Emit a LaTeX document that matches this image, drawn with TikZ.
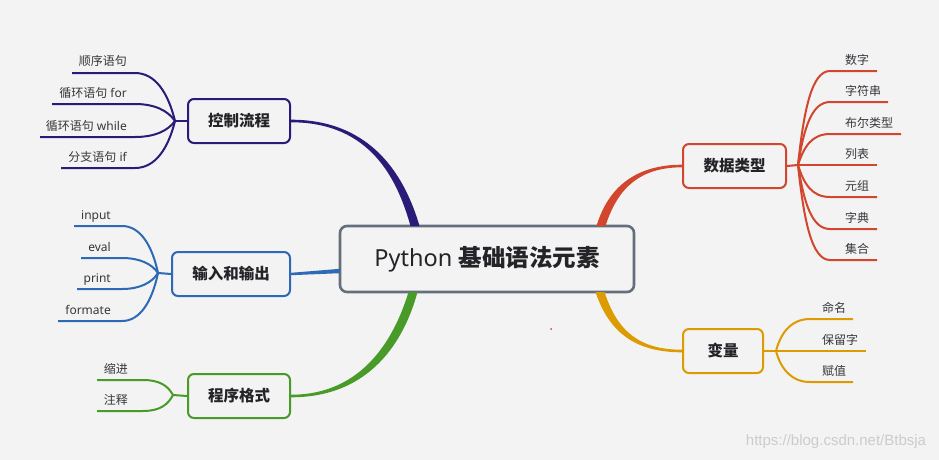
\documentclass[tikz,border=0pt]{standalone}
\usepackage{fontspec}
\setmainfont{Noto Sans}
\newfontfamily\zhfont{Noto Sans CJK SC}
\newfontfamily\wmfont{Liberation Sans}
\newcommand{\zh}[1]{{\zhfont #1}}
\usetikzlibrary{calc}
\definecolor{bgc}{RGB}{243,243,243}
\definecolor{cnavy}{RGB}{40,28,120}
\definecolor{cblue}{RGB}{45,105,180}
\definecolor{cgreen}{RGB}{72,155,40}
\definecolor{cred}{RGB}{210,70,45}
\definecolor{corange}{RGB}{220,155,0}
\definecolor{cgray}{RGB}{100,110,125}
\definecolor{txtc}{RGB}{35,35,40}
\definecolor{leafc}{RGB}{55,55,60}
\tikzset{
  topic/.style={draw, rounded corners=6pt, line width=2pt, fill=bgc, minimum height=44pt,
    inner sep=2pt, font=\zhfont\bfseries\fontsize{15.5}{18}\selectfont, text=txtc},
  leaf/.style={inner sep=0pt, font=\fontsize{12}{14}\selectfont, text=leafc},
  branch/.style={line width=2pt},
}
\begin{document}
\begin{tikzpicture}[x=1pt,y=-1pt]
\fill[bgc] (0,0) rectangle (939,460);
\useasboundingbox (0,0) rectangle (939,460);

% central and topic nodes
\node[draw=cgray, rounded corners=7pt, line width=2.6pt, fill=bgc, minimum width=294pt, minimum height=66pt,
  font=\fontsize{23.5}{28}\selectfont, text=txtc] (main) at (487,259) {Python \zh{\bfseries 基础语法元素}};
\node[topic, draw=cnavy, minimum width=102pt] (ctrl) at (239,121) {控制流程};
\node[topic, draw=cblue, minimum width=118pt] (io) at (231,274) {输入和输出};
\node[topic, draw=cgreen, minimum width=102pt] (fmt) at (239,396) {程序格式};
\node[topic, draw=cred, minimum width=103pt] (data) at (734.5,166) {数据类型};
\node[topic, draw=corange, minimum width=80pt] (var) at (723,351) {变量};

% attachment points on the central box
\coordinate (pN) at (415,226);
\coordinate (pB) at (340,271);
\coordinate (pG) at (413,292);
\coordinate (pR) at (601,226);
\coordinate (pO) at (600,292);

% tapered main connectors
\fill[cnavy] ($(ctrl.east)+(0,-1.3)$) .. controls +(82,0) and +(-14,-48) .. ($(pN)+(4.5,0)$)
  -- ($(pN)+(-4.5,0)$) .. controls +(-13,-46) and +(80,0) .. ($(ctrl.east)+(0,1.3)$) -- cycle;
\fill[cblue] ($(io.east)+(0,-1.2)$) -- ($(pB)+(0,-2.2)$) -- ($(pB)+(0,2.2)$) -- ($(io.east)+(0,1.2)$) -- cycle;
\fill[cgreen] ($(fmt.east)+(0,-1.3)$) .. controls +(72,0) and +(-14,46) .. ($(pG)+(-4.5,0)$)
  -- ($(pG)+(4.5,0)$) .. controls +(-13,48) and +(80,0) .. ($(fmt.east)+(0,1.3)$) -- cycle;
\fill[cred] ($(pR)+(-4.5,0)$) .. controls +(12,-40) and +(-45,0) .. ($(data.west)+(0,-1.3)$)
  -- ($(data.west)+(0,1.3)$) .. controls +(-42,0) and +(12,-38) .. ($(pR)+(4.5,0)$) -- cycle;
\fill[corange] ($(pO)+(-4.5,0)$) .. controls +(14,42) and +(-45,0) .. ($(var.west)+(0,1.3)$)
  -- ($(var.west)+(0,-1.3)$) .. controls +(-42,0) and +(13,40) .. ($(pO)+(4.5,0)$) -- cycle;

% control flow leaves
\coordinate (J1) at (175,121);
\draw[branch, cnavy] (ctrl.west) -- (J1);
\foreach \i/\Y/\X/\t in {1/73/72/{\zh{顺序语句}}, 2/104/52/{\zh{循环语句} for}, 3/137/40/{\zh{循环语句} while}, 4/168/61/{\zh{分支语句} if}} {
  \coordinate (a\i) at (\X,\Y);
  \node[leaf, anchor=base east] (ta\i) at (127,\Y-7) {\t};
  \draw[branch, cnavy] (J1) .. controls ($(J1)+(-7,{0.6*(\Y-121)})$) and (155,\Y) .. (135,\Y) -- (a\i);
}

% input/output leaves
\coordinate (J2) at (158,273);
\draw[branch, cblue] (io.west) -- (J2);
\foreach \i/\Y/\X/\t in {1/226/74/input, 2/258/81/eval, 3/289/77/print, 4/321/58/formate} {
  \coordinate (b\i) at (\X,\Y);
  \node[leaf, anchor=base east] (tb\i) at (111,\Y-7) {\t};
  \draw[branch, cblue] (J2) .. controls ($(J2)+(-6,{0.6*(\Y-273)})$) and (140,\Y) .. (122,\Y) -- (b\i);
}

% format leaves
\coordinate (J3) at (173,395);
\draw[branch, cgreen] (fmt.west) -- (J3);
\foreach \i/\Y/\t in {1/380/缩进, 2/411/注释} {
  \coordinate (c\i) at (97,\Y);
  \node[leaf, anchor=base east, font=\zhfont\fontsize{12}{14}\selectfont] (tc\i) at (128,\Y-7) {\t};
  \draw[branch, cgreen] (J3) .. controls ($(J3)+(-5,{0.6*(\Y-395)})$) and (160,\Y) .. (143,\Y) -- (c\i);
}

% data type leaves
\coordinate (J4) at (798,165);
\draw[branch, cred] (data.east) -- (J4);
\foreach \i/\Y/\X/\t in {1/71/877/数字, 2/102/888/字符串, 3/134/901/布尔类型, 4/165/877/列表, 5/197/877/元组, 6/229/877/字典, 7/260/877/集合} {
  \coordinate (d\i) at (\X,\Y);
  \node[leaf, anchor=base west, font=\zhfont\fontsize{12}{14}\selectfont] (td\i) at (845,\Y-7) {\t};
  \draw[branch, cred] (J4) .. controls ($(J4)+(6,{0.6*(\Y-165)})$) and (812,\Y) .. (830,\Y) -- (d\i);
}

% variable leaves
\coordinate (J5) at (776,351);
\draw[branch, corange] (var.east) -- (J5);
\foreach \i/\Y/\X/\t in {1/319/853/命名, 2/351/866/保留字, 3/382/853/赋值} {
  \coordinate (e\i) at (\X,\Y);
  \node[leaf, anchor=base west, font=\zhfont\fontsize{12}{14}\selectfont] (te\i) at (822,\Y-7) {\t};
  \draw[branch, corange] (J5) .. controls ($(J5)+(5,{0.6*(\Y-351)})$) and (792,\Y) .. (810,\Y) -- (e\i);
}

% small dot and watermark
\fill[cred] (551,329) circle (1pt);
\node[font=\wmfont\fontsize{15}{17}\selectfont, text=gray!40] (wm) at (836,442) {https://blog.csdn.net/Btbsja};
\end{tikzpicture}
\end{document}
